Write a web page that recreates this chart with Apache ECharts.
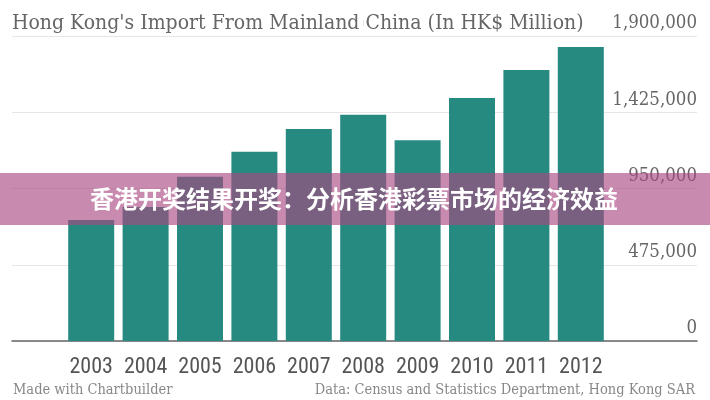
<!DOCTYPE html>
<html>
<head>
<meta charset="utf-8">
<script src="https://cdn.jsdelivr.net/npm/echarts@6/dist/echarts.min.js"></script>
<style>html,body{margin:0;padding:0;background:#fff;}#c{width:710px;height:400px;}</style>
</head>
<body>
<div id="c"></div>
<script>
var years = ['2003','2004','2005','2006','2007','2008','2009','2010','2011','2012'];
var imports = [754000, 835000, 1023000, 1179000, 1321000, 1410000, 1250000, 1514000, 1688000, 1831000];
var yTicks = [0, 475000, 950000, 1425000, 1900000];
var titleText = "Hong Kong's Import From Mainland China (In HK$ Million)";
var creditText = "Made with Chartbuilder";
var sourceText = "Data: Census and Statistics Department, Hong Kong SAR";
var bannerText = "香港开奖结果开奖：分析香港彩票市场的经济效益";

var serif = '"DejaVu Serif Condensed", "DejaVu Serif", serif';
var chart = echarts.init(document.getElementById('c'), null, {renderer: 'canvas'});
var yMin = yTicks[0], yMax = yTicks[yTicks.length - 1], yStep = yTicks[1] - yTicks[0];
chart.setOption({
  animation: false,
  backgroundColor: '#fff',
  title: [
    {text: titleText, left: 7, top: 8, textStyle: {fontFamily: serif, fontWeight: 'normal', fontSize: 21, color: '#666'}},
    {text: creditText, left: 8, top: 378, textStyle: {fontFamily: serif, fontWeight: 'normal', fontSize: 14.5, color: '#888'}},
    {text: sourceText, right: 10, top: 378, textStyle: {fontFamily: serif, fontWeight: 'normal', fontSize: 14.5, color: '#888'}}
  ],
  grid: [
    {left: 12, right: 13, top: 36, bottom: 59, containLabel: false},
    {left: 64, right: 102, top: 36, bottom: 59, containLabel: false}
  ],
  xAxis: [
    {gridIndex: 0, type: 'category', data: [''], axisLine: {show: true, lineStyle: {color: '#666', width: 1.5}}, axisTick: {show: false}, axisLabel: {show: false}},
    {gridIndex: 1, type: 'category', data: years, axisLine: {show: false}, axisTick: {show: false},
     axisLabel: {interval: 0, fontFamily: '"Liberation Sans Narrow", "Roboto Condensed", Roboto, sans-serif', fontSize: 22, color: '#555', margin: 15}},
    {gridIndex: 1, type: 'category', data: years, offset: 10, axisLine: {show: false},
     axisTick: {show: true, interval: 0, alignWithLabel: true, length: 6, lineStyle: {color: '#e4e4e4'}}, axisLabel: {show: false}}
  ],
  yAxis: [
    {gridIndex: 0, type: 'value', position: 'right', min: yMin, max: yMax, interval: yStep,
     axisLine: {show: false}, axisTick: {show: false},
     splitLine: {show: true, lineStyle: {color: '#e6e6e6', width: 1}},
     axisLabel: {inside: true, align: 'right', verticalAlign: 'bottom', margin: 0, padding: [0, 0, 3, 0],
       fontFamily: serif, fontSize: 18.5, color: '#666',
       formatter: function (v) { return v.toLocaleString('en-US'); }}},
    {gridIndex: 1, type: 'value', min: yMin, max: yMax, interval: yStep, show: false, splitLine: {show: false}}
  ],
  series: [
    {type: 'bar', xAxisIndex: 1, yAxisIndex: 1, data: imports, barWidth: 46, itemStyle: {color: '#268a80'}, z: 3}
  ],
  graphic: [
    {type: 'rect', z: 100, shape: {x: 0, y: 173, width: 710, height: 52}, style: {fill: 'rgba(170,69,128,0.63)'}},
    {type: 'text', z: 101, x: 354, y: 199, style: {text: bannerText, fill: '#fff', font: 'bold 24px "Noto Sans CJK SC"', textAlign: 'center', textVerticalAlign: 'middle'}}
  ]
});
</script>
</body>
</html>
